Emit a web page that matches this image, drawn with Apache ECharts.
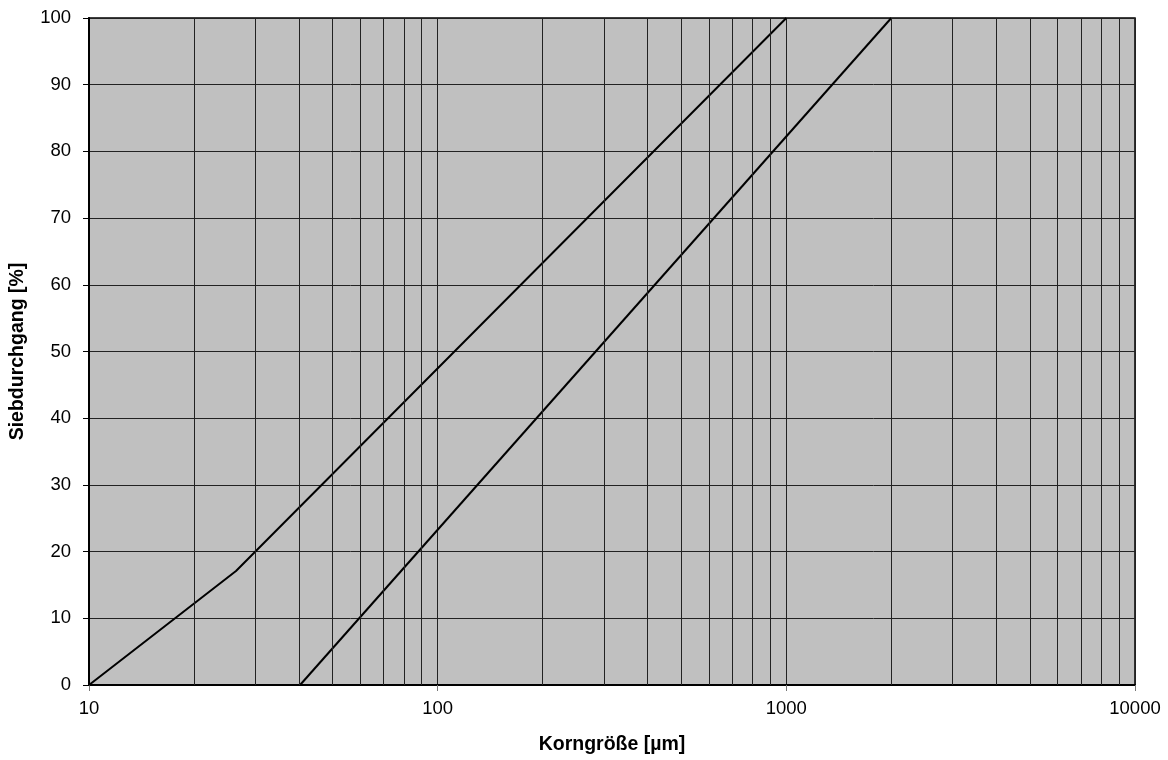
<!DOCTYPE html>
<html>
<head>
<meta charset="utf-8">
<script src="https://cdn.jsdelivr.net/npm/echarts@6/dist/echarts.min.js"></script>
<style>html,body{margin:0;padding:0;background:#fff;}#c{width:1168px;height:760px;}</style>
</head>
<body>
<div id="c"></div>
<script>
const line1X = [10, 26.4, 1000];
const line1Y = [0, 17.1, 100];
const line2X = [40.3, 2000];
const line2Y = [0, 100];
const minorGridX = [20,30,40,50,60,70,80,90,200,300,400,500,600,700,800,900,2000,3000,4000,5000,6000,7000,8000,9000];
const xAxisTitle = 'Korngröße [µm]';
const yAxisTitle = 'Siebdurchgang [%]';

const font = "'Liberation Sans', Arial, sans-serif";
const chart = echarts.init(document.getElementById('c'), null, {renderer: 'canvas'});
chart.setOption({
  animation: false,
  backgroundColor: '#fff',
  grid: {left: 88, right: 33, top: 18, bottom: 75, show: true, backgroundColor: '#c0c0c0', borderColor: '#000', borderWidth: 1.5},
  xAxis: {
    type: 'log', logBase: 10, min: 10, max: 10000,
    name: xAxisTitle, nameLocation: 'middle', nameGap: 50,
    nameTextStyle: {fontFamily: font, fontSize: 19.5, fontWeight: 'bold', color: '#000'},
    axisLine: {show: true, lineStyle: {color: '#000', width: 2}},
    axisTick: {show: true, length: 6, lineStyle: {color: '#777'}},
    axisLabel: {fontFamily: font, fontSize: 18.5, color: '#000', margin: 14, formatter: v => String(Math.round(v))},
    splitLine: {show: true, lineStyle: {color: '#222', width: 1}},
    minorTick: {show: false}, minorSplitLine: {show: false}
  },
  yAxis: {
    type: 'value', min: 0, max: 100, interval: 10,
    name: yAxisTitle, nameLocation: 'middle', nameGap: 61,
    nameTextStyle: {fontFamily: font, fontSize: 19.5, fontWeight: 'bold', color: '#000'},
    axisLine: {show: true, lineStyle: {color: '#000', width: 2}},
    axisTick: {show: true, length: 6, lineStyle: {color: '#000'}},
    axisLabel: {fontFamily: font, fontSize: 18.5, color: '#000', margin: 18},
    splitLine: {show: true, lineStyle: {color: '#222', width: 1}}
  },
  series: [
    {
      type: 'line', symbol: 'none', silent: true,
      data: line1X.map((x, i) => [x, line1Y[i]]),
      lineStyle: {color: '#000', width: 2},
      markLine: {
        silent: true, symbol: ['none', 'none'], label: {show: false},
        lineStyle: {color: '#222', width: 1, type: 'solid'},
        emphasis: {disabled: true},
        data: minorGridX.map(v => ({xAxis: v}))
      },
      z: 3
    },
    {
      type: 'line', symbol: 'none', silent: true,
      data: line2X.map((x, i) => [x, line2Y[i]]),
      lineStyle: {color: '#000', width: 2},
      z: 3
    }
  ]
});
</script>
</body>
</html>
